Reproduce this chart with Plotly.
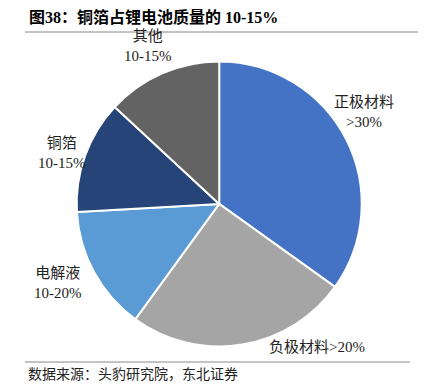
import plotly.graph_objects as go

labels = ["正极材料", "负极材料", "电解液", "铜箔", "其他"]
values = [34.9, 25.1, 14.1, 12.8, 13.1]
colors = ["#4472C4", "#A5A5A5", "#5B9BD5", "#264478", "#636363"]
label_texts = ["正极材料<br>>30%", "负极材料>20%", "电解液<br>10-20%", "铜箔<br>10-15%", "其他<br>10-15%"]
label_pos = [(364, 112), (317, 347), (58, 283), (62, 153), (148, 46)]

title = "<b>图38：铜箔占锂电池质量的 10-15%</b>"
source = "数据来源：头豹研究院，东北证券"

W, H = 428, 391
OFF = 8  # page body margin
FONT = "Liberation Serif, Noto Sans CJK SC, serif"

def px(x):
    return (x - OFF) / W

def py(y):
    return 1 - (y - OFF) / H

cx, cy, r = 219.2, 203.9, 142.5
fig = go.Figure(go.Pie(
    labels=labels, values=values, sort=False, direction="clockwise", rotation=0,
    marker=dict(colors=colors, line=dict(color="white", width=2)),
    textinfo="none", hoverinfo="label+percent", showlegend=False,
    domain=dict(x=[px(cx - r), px(cx + r)], y=[py(cy + r), py(cy - r)]),
))

for t, (lx, ly) in zip(label_texts, label_pos):
    fig.add_annotation(x=px(lx), y=py(ly), xref="paper", yref="paper", text=t,
                       showarrow=False, font=dict(family=FONT, size=15, color="#222"),
                       xanchor="center", yanchor="middle", align="center")

fig.add_annotation(x=px(27), y=py(17), xref="paper", yref="paper", text=title,
                   showarrow=False, font=dict(family=FONT, size=16, color="black"),
                   xanchor="left", yanchor="middle")
fig.add_annotation(x=px(26), y=py(374), xref="paper", yref="paper", text=source,
                   showarrow=False, font=dict(family=FONT, size=14, color="#222"),
                   xanchor="left", yanchor="middle")

for y0, x0, x1 in [(32, 25, 418), (362, 25, 410)]:
    fig.add_shape(type="line", xref="paper", yref="paper", x0=px(x0), x1=px(x1),
                  y0=py(y0), y1=py(y0), line=dict(color="#888", width=1))

fig.update_layout(width=W, height=H, margin=dict(l=0, r=0, t=0, b=0),
                  paper_bgcolor="white", plot_bgcolor="white")
fig.write_html("out.html")
